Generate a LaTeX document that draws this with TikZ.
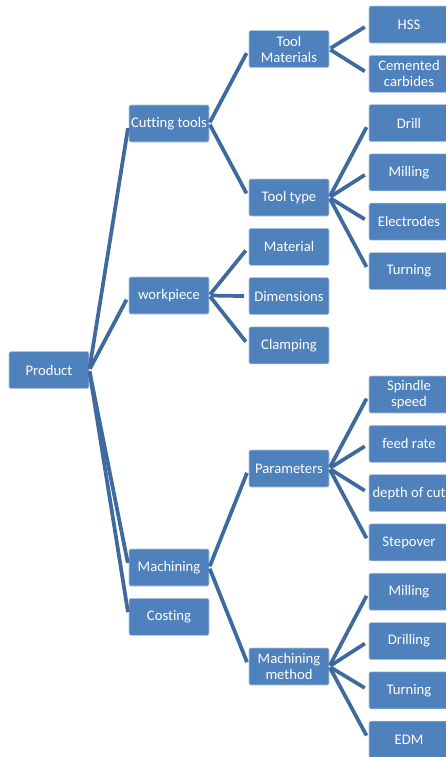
\documentclass[tikz,border=0pt]{standalone}
\usepackage{fontspec}
\setmainfont{Carlito}[Ligatures=CommonOff]
\usetikzlibrary{positioning}
\definecolor{boxblue}{RGB}{79,129,189}
\definecolor{linkblue}{RGB}{62,106,158}
\tikzstyle{block} = [rectangle, draw=white!55!boxblue, fill=boxblue, text=white,
    align=center, minimum width=60pt, minimum height=27.75pt, inner sep=1pt,
    rounded corners=1.5pt, font=\fontsize{11}{12}\selectfont]
\tikzstyle{line} = [draw=linkblue, line width=2.8pt, shorten <=1pt, shorten >=3.5pt]

\begin{document}
\begin{tikzpicture}[x=0.75pt, y=0.75pt, node distance=36.98pt]
  \useasboundingbox (0,0) rectangle (446,-757);
  % Root
  \node [block] (product) at (49,-370) {Product};

  % Second level
  \node [block] (cutting) at (169,-123.5) {Cutting tools};
  \node [block] (workpiece) at (169,-295.5) {workpiece};
  \node [block] (machining) at (169,-567.5) {Machining};
  \node [block, below of=machining] (costing) {Costing};

  % Third level
  \node [block] (toolmat) at (289,-49) {Tool\\Materials};
  \node [block] (tooltype) at (289,-197.5) {Tool type};
  \node [block, below of=tooltype] (material) {Material};
  \node [block, below of=material] (dimensions) {Dimensions};
  \node [block, below of=dimensions] (clamping) {Clamping};
  \node [block] (parameters) at (289,-468.5) {Parameters};
  \node [block] (method) at (289,-666.5) {Machining\\method};

  % Leaves
  \node [block] (hss) at (409,-24.5) {HSS};
  \node [block, below of=hss] (carbides) {Cemented\\carbides};
  \node [block, below of=carbides] (drill) {Drill};
  \node [block, below of=drill] (milling) {Milling};
  \node [block, below of=milling] (electrodes) {Electrodes};
  \node [block, below of=electrodes] (turning) {Turning};

  \node [block] (spindle) at (409,-394.5) {Spindle\\speed};
  \node [block, below of=spindle] (feed) {feed rate};
  \node [block, below of=feed] (depth) {depth of cut};
  \node [block, below of=depth] (stepover) {Stepover};
  \node [block, below of=stepover] (millingm) {Milling};
  \node [block, below of=millingm] (drilling) {Drilling};
  \node [block, below of=drilling] (turningm) {Turning};
  \node [block, below of=turningm] (edm) {EDM};

  % Connectors
  \path [line] (product.east) -- (cutting.west);
  \path [line] (product.east) -- (workpiece.west);
  \path [line] (product.east) -- (machining.west);
  \path [line] (product.east) -- (costing.west);

  \path [line] (cutting.east) -- (toolmat.west);
  \path [line] (cutting.east) -- (tooltype.west);
  \path [line] (workpiece.east) -- (material.west);
  \path [line] (workpiece.east) -- (dimensions.west);
  \path [line] (workpiece.east) -- (clamping.west);
  \path [line] (machining.east) -- (parameters.west);
  \path [line] (machining.east) -- (method.west);

  \path [line] (toolmat.east) -- (hss.west);
  \path [line] (toolmat.east) -- (carbides.west);
  \path [line] (tooltype.east) -- (drill.west);
  \path [line] (tooltype.east) -- (milling.west);
  \path [line] (tooltype.east) -- (electrodes.west);
  \path [line] (tooltype.east) -- (turning.west);

  \path [line] (parameters.east) -- (spindle.west);
  \path [line] (parameters.east) -- (feed.west);
  \path [line] (parameters.east) -- (depth.west);
  \path [line] (parameters.east) -- (stepover.west);
  \path [line] (method.east) -- (millingm.west);
  \path [line] (method.east) -- (drilling.west);
  \path [line] (method.east) -- (turningm.west);
  \path [line] (method.east) -- (edm.west);
\end{tikzpicture}
\end{document}
